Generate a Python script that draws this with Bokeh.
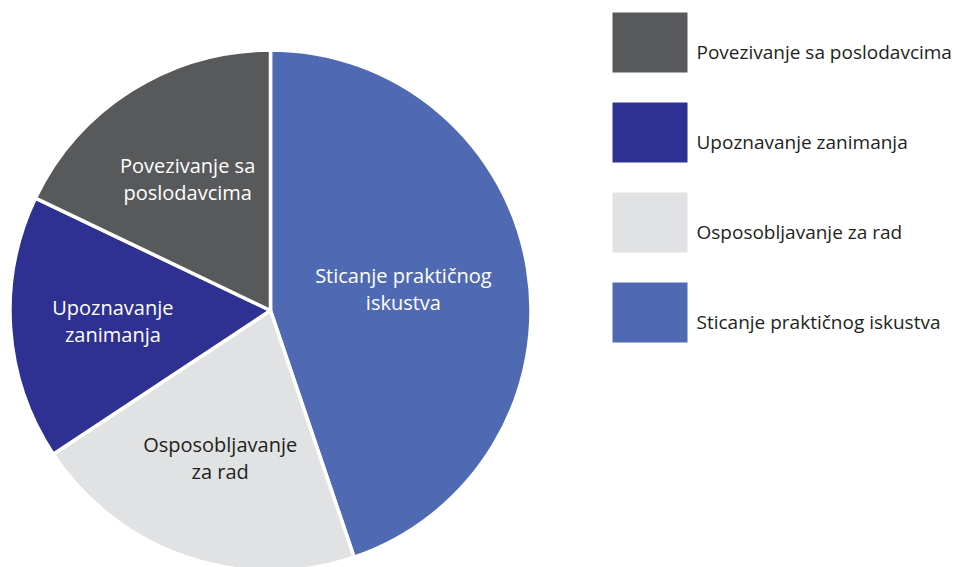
import math
from bokeh.plotting import figure
from bokeh.models import Range1d, ColumnDataSource
from bokeh.core.properties import value
from bokeh.embed import file_html
from bokeh.resources import INLINE

# ---- data (pie order: clockwise from 12 o'clock) ----
categories = ["Sticanje praktičnog iskustva", "Osposobljavanje za rad",
              "Upoznavanje zanimanja", "Povezivanje sa poslodavcima"]
shares = [44.8, 20.9, 16.4, 17.9]
slice_labels = [["Sticanje praktičnog", "iskustva"], ["Osposobljavanje", "za rad"],
                ["Upoznavanje", "zanimanja"], ["Povezivanje sa", "poslodavcima"]]
legend_order = ["Povezivanje sa poslodavcima", "Upoznavanje zanimanja",
                "Osposobljavanje za rad", "Sticanje praktičnog iskustva"]

# ---- styles / layout ----
colors = {"Sticanje praktičnog iskustva": "#4F6AB2", "Osposobljavanje za rad": "#E1E2E4",
          "Upoznavanje zanimanja": "#2E3192", "Povezivanje sa poslodavcima": "#58595B"}
label_colors = {"Sticanje praktičnog iskustva": "white", "Osposobljavanje za rad": "#231F20",
                "Upoznavanje zanimanja": "white", "Povezivanje sa poslodavcima": "white"}
label_radius_frac = [0.52, 0.60, 0.61, 0.60]
FONT = "Open Sans"
W, H = 960, 567


def Y(img_y):
    return H - img_y


CX, CY, R = 270, Y(310), 259

p = figure(width=W, height=H, x_range=Range1d(0, W), y_range=Range1d(0, H),
           output_backend="svg", toolbar_location=None, min_border=0)
p.axis.visible = False
p.grid.visible = False
p.outline_line_color = None
p.background_fill_color = "white"
p.border_fill_color = "white"

# wedges
total = sum(shares)
starts, ends, mids = [], [], []
cum = 0.0
for s in shares:
    a0 = math.pi / 2 - 2 * math.pi * cum / total
    cum += s
    a1 = math.pi / 2 - 2 * math.pi * cum / total
    starts.append(a0)
    ends.append(a1)
    mids.append((a0 + a1) / 2)

src = ColumnDataSource(dict(cat=categories, start=starts, end=ends,
                            color=[colors[c] for c in categories]))
p.wedge(x=CX, y=CY, radius=R + 1.5, start_angle="start", end_angle="end",
        direction="clock", fill_color="color", line_color="white", line_width=3.5,
        source=src)

# slice labels
lx, ly, lt, lc = [], [], [], []
LINE_GAP = 27
for cat, lines, m, rf in zip(categories, slice_labels, mids, label_radius_frac):
    ax = CX + R * rf * math.cos(m)
    ay = CY + R * rf * math.sin(m)
    n = len(lines)
    for i, t in enumerate(lines):
        lx.append(ax)
        ly.append(ay + (n - 1) / 2 * LINE_GAP - i * LINE_GAP)
        lt.append(t)
        lc.append(label_colors[cat])
p.text(x=lx, y=ly, text=lt, text_color=lc, text_font=value(FONT),
       text_font_size=value("20px"), text_align="center", text_baseline="alphabetic")

# legend
LEG_X0, LEG_X1, LEG_TOP, LEG_H, LEG_STEP = 612, 687, 12, 60, 90
tops = [Y(LEG_TOP + i * LEG_STEP) for i in range(len(legend_order))]
bots = [Y(LEG_TOP + LEG_H + i * LEG_STEP) for i in range(len(legend_order))]
p.quad(left=LEG_X0, right=LEG_X1, top=tops, bottom=bots,
       fill_color=[colors[c] for c in legend_order], line_color=None)
p.text(x=[696] * len(legend_order),
       y=[Y(LEG_TOP + 39.7 + i * LEG_STEP) for i in range(len(legend_order))],
       text=legend_order, text_color="#231F20", text_font=value(FONT),
       text_font_size=value("19px"), text_align="left", text_baseline="alphabetic")

open("out.html", "w").write(file_html(p, INLINE))
